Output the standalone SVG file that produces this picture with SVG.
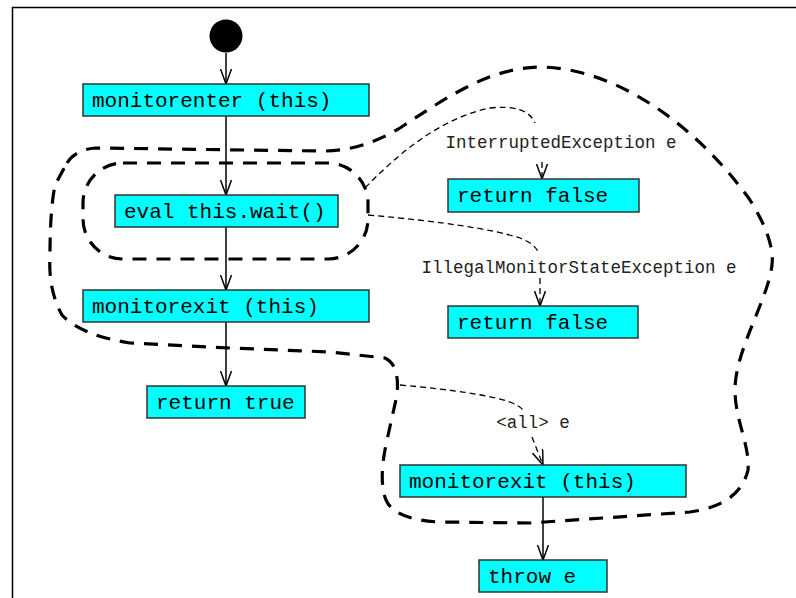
<svg xmlns="http://www.w3.org/2000/svg" width="796" height="598" viewBox="0 0 796 598">
<style>
.box{fill:#00ffff;stroke:#333;stroke-width:1.5}
.bt{font-family:"Liberation Mono","Courier New",monospace;font-size:21px;fill:#000}
.lbl{font-family:"Liberation Mono","Courier New",monospace;font-size:17.5px;fill:#222}
.edge{fill:none;stroke:#000;stroke-width:1.5}
.exc{fill:none;stroke:#000;stroke-width:1.3;stroke-dasharray:6 4}
.region{fill:none;stroke:#000;stroke-width:3.2;stroke-dasharray:14 10}
</style>
<defs>
<marker id="arr" viewBox="0 0 16 12" refX="15" refY="6" markerWidth="16" markerHeight="12" markerUnits="userSpaceOnUse" orient="auto">
<path d="M0,0.5 L15,6 L0,11.5" fill="none" stroke="#000" stroke-width="1.5"/>
</marker>
</defs>
<rect width="796" height="598" fill="#fff"/>
<path d="M12.5,598 V7.5 H796" fill="none" stroke="#000" stroke-width="1.5"/>
<g id="regions">
<rect x="83" y="163" width="285" height="96" rx="40" ry="40" class="region"/>
<path class="region" d="M67,163 Q75,150 95,148 L320,151 Q360,152 400,128 C450,95 490,68 540,67 C620,68 700,130 750,200 Q775,240 772,265 C768,300 735,350 735,390 C735,420 750,445 748,470 Q740,505 690,512 L530,523 L440,522 Q395,520 386,500 Q378,480 387,440 L397,395 Q400,365 385,358 L330,352 L230,348 L130,343 Q80,335 62,315 Q48,290 50,255 Q50,210 55,185 Z"/>
</g>
<g id="connectors">
<line class="edge" x1="226" y1="53" x2="226" y2="84" marker-end="url(#arr)"/>
<line class="edge" x1="226" y1="116" x2="226" y2="195" marker-end="url(#arr)"/>
<line class="edge" x1="226" y1="227" x2="226" y2="290" marker-end="url(#arr)"/>
<line class="edge" x1="226" y1="322" x2="226" y2="386" marker-end="url(#arr)"/>
<line class="edge" x1="543" y1="497" x2="543" y2="560" marker-end="url(#arr)"/>
<path class="exc" d="M365,188 Q430,120 490,108 Q527,104 535,123"/>
<path class="exc" d="M542,162 L542,179" marker-end="url(#arr)"/>
<path class="exc" d="M368,215 Q480,225 520,238 Q535,244 538,252"/>
<path class="exc" d="M540,278 L540,306" marker-end="url(#arr)"/>
<path class="exc" d="M400,385 Q480,392 510,402 Q520,406 523,410"/>
<path class="exc" d="M532,437 L543,465" marker-end="url(#arr)"/>
<text class="lbl" x="561" y="148" text-anchor="middle">InterruptedException e</text>
<text class="lbl" x="579" y="273" text-anchor="middle">IllegalMonitorStateException e</text>
<text class="lbl" x="533" y="428" text-anchor="middle">&lt;all&gt; e</text>
</g>
<g id="start"><circle cx="226" cy="36" r="16.5" fill="#000"/></g>
<g id="monitorenter"><rect class="box" x="83" y="84" width="286" height="32"/><text class="bt" x="92" y="107">monitorenter (this)</text></g>
<g id="eval"><rect class="box" x="115" y="195" width="223" height="32"/><text class="bt" x="124" y="218">eval this.wait()</text></g>
<g id="monitorexit1"><rect class="box" x="83" y="290" width="286" height="32"/><text class="bt" x="92" y="313">monitorexit (this)</text></g>
<g id="returntrue"><rect class="box" x="147" y="386" width="158" height="32"/><text class="bt" x="156" y="409">return true</text></g>
<g id="returnfalse1"><rect class="box" x="448" y="179" width="191" height="33"/><text class="bt" x="457" y="202">return false</text></g>
<g id="returnfalse2"><rect class="box" x="448" y="306" width="190" height="32"/><text class="bt" x="457" y="329">return false</text></g>
<g id="monitorexit2"><rect class="box" x="400" y="465" width="286" height="32"/><text class="bt" x="409" y="488">monitorexit (this)</text></g>
<g id="throw"><rect class="box" x="479" y="560" width="128" height="32"/><text class="bt" x="488" y="583">throw e</text></g>
</svg>
